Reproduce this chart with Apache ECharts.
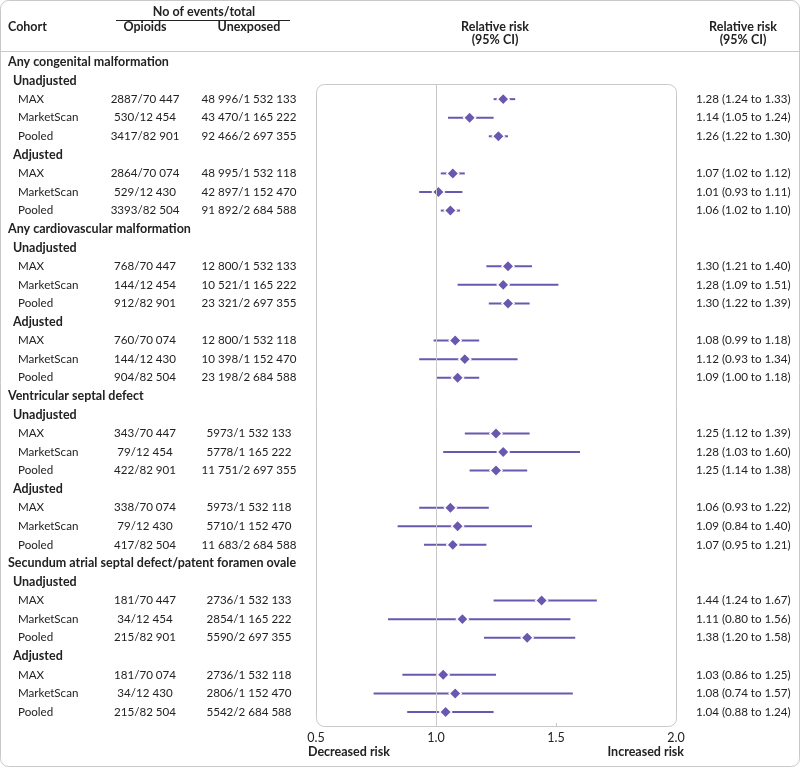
<!DOCTYPE html>
<html><head><meta charset="utf-8">
<script src="https://cdn.jsdelivr.net/npm/echarts@6/dist/echarts.min.js"></script>
<style>html,body{margin:0;padding:0;background:#fff}#c{width:800px;height:768px}</style>
</head><body><div id="c"></div>
<script>
// ---------------- data ----------------
const outcomes = ['Any congenital malformation', 'Any cardiovascular malformation', 'Ventricular septal defect', 'Secundum atrial septal defect/patent foramen ovale'];
const analyses = ['Unadjusted', 'Adjusted'];
const cohorts = ['MAX', 'MarketScan', 'Pooled'];
const opioidCounts = [
  '2887/70 447', '530/12 454', '3417/82 901', '2864/70 074', '529/12 430', '3393/82 504',
  '768/70 447', '144/12 454', '912/82 901', '760/70 074', '144/12 430', '904/82 504',
  '343/70 447', '79/12 454', '422/82 901', '338/70 074', '79/12 430', '417/82 504',
  '181/70 447', '34/12 454', '215/82 901', '181/70 074', '34/12 430', '215/82 504'];
const unexposedCounts = [
  '48 996/1 532 133', '43 470/1 165 222', '92 466/2 697 355', '48 995/1 532 118', '42 897/1 152 470', '91 892/2 684 588',
  '12 800/1 532 133', '10 521/1 165 222', '23 321/2 697 355', '12 800/1 532 118', '10 398/1 152 470', '23 198/2 684 588',
  '5973/1 532 133', '5778/1 165 222', '11 751/2 697 355', '5973/1 532 118', '5710/1 152 470', '11 683/2 684 588',
  '2736/1 532 133', '2854/1 165 222', '5590/2 697 355', '2736/1 532 118', '2806/1 152 470', '5542/2 684 588'];
const rr    = [1.28, 1.14, 1.26, 1.07, 1.01, 1.06, 1.30, 1.28, 1.30, 1.08, 1.12, 1.09, 1.25, 1.28, 1.25, 1.06, 1.09, 1.07, 1.44, 1.11, 1.38, 1.03, 1.08, 1.04];
const lower = [1.24, 1.05, 1.22, 1.02, 0.93, 1.02, 1.21, 1.09, 1.22, 0.99, 0.93, 1.00, 1.12, 1.03, 1.14, 0.93, 0.84, 0.95, 1.24, 0.80, 1.20, 0.86, 0.74, 0.88];
const upper = [1.33, 1.24, 1.30, 1.12, 1.11, 1.10, 1.40, 1.51, 1.39, 1.18, 1.34, 1.18, 1.39, 1.60, 1.38, 1.22, 1.40, 1.21, 1.67, 1.56, 1.58, 1.25, 1.57, 1.24];
const xTicks = [0.5, 1.0, 1.5, 2.0];
const refValue = 1.0;

// ---------------- layout ----------------
const FONT = 'Lato';
const FS = 11.6;      // regular text
const FSB = 12.5;     // bold text
const INK = '#222';
const PURPLE = '#6a58b0';
const GREY = '#c9c9c9';
const ROW0_Y = 62, ROW_STEP = 18.571;
const GRID_TOP = 84, GRID_BOTTOM = 727, GRID_LEFT = 316, GRID_RIGHT = 676;
const COL = {outcome: 8, analysis: 13, cohort: 18, opioid: 145, unexposed: 249, rr: 696};

const f2 = v => v.toFixed(2);

// build rows
const rows = [];
let k = 0;
outcomes.forEach(o => {
  rows.push({kind: 'outcome', text: o});
  analyses.forEach(a => {
    rows.push({kind: 'analysis', text: a});
    cohorts.forEach(c => { rows.push({kind: 'data', text: c, i: k}); k++; });
  });
});
const dataRowIndex = [];
rows.forEach((r, ri) => { if (r.kind === 'data') dataRowIndex[r.i] = ri; });

const yMin = (GRID_TOP - ROW0_Y) / ROW_STEP;
const yMax = (GRID_BOTTOM - ROW0_Y) / ROW_STEP;

function txt(x, y, text, opt) {
  return {type: 'text', x: x, y: y, style: Object.assign({text: text, fill: INK, font: FS + 'px ' + FONT, textVerticalAlign: 'middle', verticalAlign: 'middle'}, opt || {})};
}
const BOLD = 'bold ' + FSB + 'px ' + FONT;

const chart = echarts.init(document.getElementById('c'), null, {renderer: 'canvas'});
chart.setOption({
  animation: false,
  backgroundColor: '#fff',
  grid: {left: GRID_LEFT, width: GRID_RIGHT - GRID_LEFT, top: GRID_TOP, height: GRID_BOTTOM - GRID_TOP, containLabel: false},
  xAxis: {
    type: 'value', min: xTicks[0], max: xTicks[xTicks.length - 1], interval: 0.5,
    axisLine: {show: false}, splitLine: {show: false},
    axisTick: {show: true, inside: true, length: 4, lineStyle: {color: GREY}, customValues: [1.5]},
    axisLabel: {show: true, color: INK, fontSize: FSB, fontFamily: FONT, margin: 4, customValues: xTicks, formatter: v => v.toFixed(1)}
  },
  yAxis: {type: 'value', inverse: true, min: yMin, max: yMax, show: false},
  graphic: [
    {type: 'rect', shape: {x: 0.5, y: 0.5, width: 799, height: 766, r: 8}, style: {fill: 'none', stroke: GREY, lineWidth: 1}, z: -1},
    {type: 'line', shape: {x1: 0, y1: 51.5, x2: 800, y2: 51.5}, style: {stroke: GREY, lineWidth: 1}},
    {type: 'rect', shape: {x: GRID_LEFT + 0.5, y: GRID_TOP + 0.5, width: GRID_RIGHT - GRID_LEFT, height: GRID_BOTTOM - GRID_TOP - 1, r: 8}, style: {fill: 'none', stroke: GREY, lineWidth: 1}, z: -1},
    {type: 'line', shape: {x1: 116, y1: 20.5, x2: 290, y2: 20.5}, style: {stroke: INK, lineWidth: 1}},
    txt(204, 12, 'No of events/total', {font: BOLD, align: 'center'}),
    txt(8, 27, 'Cohort', {font: BOLD}),
    txt(145, 27, 'Opioids', {font: BOLD, align: 'center'}),
    txt(249, 27, 'Unexposed', {font: BOLD, align: 'center'}),
    txt(495, 27, 'Relative risk', {font: BOLD, align: 'center'}),
    txt(495, 40, '(95% CI)', {font: BOLD, align: 'center'}),
    txt(743, 27, 'Relative risk', {font: BOLD, align: 'center'}),
    txt(743, 40, '(95% CI)', {font: BOLD, align: 'center'}),
    txt(308, 752, 'Decreased risk', {font: BOLD}),
    txt(684, 752, 'Increased risk', {font: BOLD, align: 'right'})
  ],
  series: [
    {
      type: 'custom', name: 'table', clip: false, silent: true,
      data: rows.map((r, ri) => [refValue, ri]),
      encode: {x: 0, y: 1},
      renderItem: function (params, api) {
        const r = rows[params.dataIndex];
        const y = api.coord([refValue, api.value(1)])[1];
        const children = [];
        if (r.kind === 'outcome') {
          children.push(txt(COL.outcome, y, r.text, {font: BOLD}));
        } else if (r.kind === 'analysis') {
          children.push(txt(COL.analysis, y, r.text, {font: BOLD}));
        } else {
          const i = r.i;
          children.push(txt(COL.cohort, y, r.text));
          children.push(txt(COL.opioid, y, opioidCounts[i], {align: 'center'}));
          children.push(txt(COL.unexposed, y, unexposedCounts[i], {align: 'center'}));
          children.push(txt(COL.rr, y, f2(rr[i]) + ' (' + f2(lower[i]) + ' to ' + f2(upper[i]) + ')'));
        }
        return {type: 'group', children: children};
      }
    },
    {
      type: 'custom', name: 'ci', clip: false, silent: true,
      data: rr.map((v, i) => [lower[i], upper[i], dataRowIndex[i]]),
      encode: {x: [0, 1], y: 2},
      renderItem: function (params, api) {
        const p1 = api.coord([api.value(0), api.value(2)]);
        const p2 = api.coord([api.value(1), api.value(2)]);
        return {type: 'line', shape: {x1: p1[0], y1: p1[1], x2: p2[0], y2: p2[1]}, style: {stroke: PURPLE, lineWidth: 2}};
      }
    },
    {
      type: 'scatter', name: 'rr', silent: true,
      data: rr.map((v, i) => [v, dataRowIndex[i]]),
      symbol: 'diamond', symbolSize: 12,
      itemStyle: {color: PURPLE, borderColor: '#fff', borderWidth: 1.5, opacity: 1},
      z: 3,
      markLine: {
        silent: true, symbol: 'none', label: {show: false},
        lineStyle: {color: GREY, width: 1, type: 'solid'},
        data: [{xAxis: refValue}]
      }
    }
  ]
});
</script></body></html>
